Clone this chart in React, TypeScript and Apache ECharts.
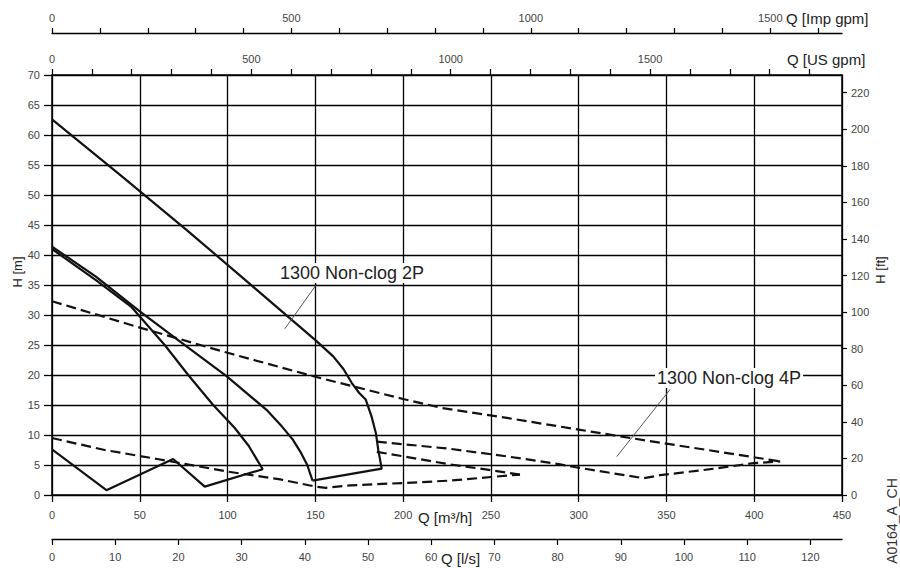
import React, { useEffect, useRef } from "react";
import * as echarts from "echarts";

// unit conversions (m3/h per unit, m per ft)
const M3H_PER_USGPM = 0.2271247;
const M3H_PER_IMPGPM = 0.2727654;
const M3H_PER_LS = 3.6;
const M_PER_FT = 0.3048;

const Q_MAX = 450; // m3/h
const H_MAX = 70; // m

// tick lists
const usGpmTicks = [0, 100, 200, 300, 400, 500, 600, 700, 800, 900, 1000, 1100, 1200, 1300, 1400, 1500, 1600, 1700, 1800, 1900];
const usGpmLabels = [0, 500, 1000, 1500];
const impGpmTicks = [0, 100, 200, 300, 400, 500, 600, 700, 800, 900, 1000, 1100, 1200, 1300, 1400, 1500, 1600];
const impGpmLabels = [0, 500, 1000, 1500];
const lsTicks = [0, 10, 20, 30, 40, 50, 60, 70, 80, 90, 100, 110, 120];
const ftTicks = [0, 20, 40, 60, 80, 100, 120, 140, 160, 180, 200, 220];

// curves [Q m3/h, H m]
const np2Max = [
  [0, 62.6], [38.6, 53.4], [76.6, 44.2], [113, 35.1], [149.7, 25.9], [160.2, 23.1],
  [166, 21.0], [170.7, 18.7], [175, 17.0], [178.7, 15.9], [182, 13.1], [184.5, 10.3],
  [185.8, 7.6], [187.8, 4.4], [148.4, 2.4],
];
const np2Mid = [
  [0, 41.4], [25, 36.4], [50, 30.6], [72.8, 25.6], [99.4, 19.8], [122.2, 14.2],
  [131, 11.4], [137, 9.3], [141.5, 7.2], [145.4, 5.0], [148.4, 2.4],
];
const np2Small = [
  [0, 41.0], [25, 35.8], [45, 31.4], [64.2, 25.0], [77.6, 20.0], [91.8, 15.0],
  [104, 11.2], [112, 8.2], [120, 4.3], [87, 1.4], [69, 6.0], [31, 0.8], [0, 7.6],
];
const np4Max = [
  [0, 32.3], [50, 27.9], [100, 23.7], [150, 19.7], [200, 16.0], [222, 14.5],
  [260, 12.8], [300, 10.9], [340, 9.0], [380, 7.2], [414.8, 5.6],
];
const np4Low = [
  [0, 9.5], [30, 7.5], [60, 6.0], [100, 3.9], [130, 2.6], [150, 1.4], [156, 1.2],
  [170, 1.6], [200, 2.0], [227, 2.4], [250, 3.0], [266.6, 3.4],
];
const np4Upper = [
  [185, 8.9], [226.7, 7.7], [260, 6.4], [289.4, 5.1], [300.8, 4.5], [336.9, 2.8],
  [346.4, 3.3], [374.9, 4.3], [399.6, 5.3], [414.8, 5.6],
];
const np4Inner = [[185, 7.2], [226.7, 5.1], [246, 4.3], [266.6, 3.4]];

// leader lines of the annotations
const leader2P = [[150.7, 35.1], [132.6, 27.7]];
const leader4P = [[352.1, 17.6], [321.7, 6.4]];

const FONT = '"Liberation Sans", Arial, Helvetica, sans-serif';
const LABEL_COLOR = "#444";
const NAME_COLOR = "#222";

export default function App() {
  const ref = useRef<HTMLDivElement>(null);

  useEffect(() => {
    if (!ref.current) return;
    const chart = echarts.init(ref.current, undefined, { renderer: "svg" });

    const solid = (data: number[][]) => ({
      type: "line",
      data,
      xAxisIndex: 0,
      yAxisIndex: 0,
      symbol: "none",
      silent: true,
      lineStyle: { color: "#111", width: 2.2 },
      z: 5,
    });
    const dashed = (data: number[][]) => ({
      type: "line",
      data,
      xAxisIndex: 0,
      yAxisIndex: 0,
      symbol: "none",
      silent: true,
      lineStyle: { color: "#111", width: 2.2, type: [10, 5] },
      z: 5,
    });
    const leader = (data: number[][]) => ({
      type: "line",
      data,
      xAxisIndex: 0,
      yAxisIndex: 0,
      symbol: "none",
      silent: true,
      lineStyle: { color: "#555", width: 1 },
      z: 6,
    });

    const plain = (v: number) => String(Math.round(v));
    const tickLabel = { color: LABEL_COLOR, fontSize: 11, fontFamily: FONT, formatter: plain };

    const option: any = {
      animation: false,
      backgroundColor: "#fff",
      grid: { left: 52, right: 58, top: 75, bottom: 73, containLabel: false },
      xAxis: [
        {
          type: "value",
          position: "bottom",
          min: 0,
          max: Q_MAX,
          interval: 50,
          axisLine: { onZero: false, lineStyle: { color: "#000", width: 1.5 } },
          axisTick: { length: 7, lineStyle: { color: "#000", width: 1.3 } },
          axisLabel: { ...tickLabel, margin: 14 },
          splitLine: { show: true, lineStyle: { color: "#000", width: 1.3 } },
        },
        {
          type: "value",
          position: "bottom",
          offset: 44,
          min: 0,
          max: Q_MAX / M3H_PER_LS,
          axisLine: { show: true, onZero: false, lineStyle: { color: "#000", width: 1.3 } },
          axisTick: { show: true, length: 6, customValues: lsTicks, lineStyle: { color: "#000", width: 1.2 } },
          axisLabel: { ...tickLabel, margin: 12, customValues: lsTicks },
          splitLine: { show: false },
        },
        {
          type: "value",
          position: "top",
          offset: 0,
          min: 0,
          max: Q_MAX / M3H_PER_USGPM,
          axisLine: { show: true, onZero: false, lineStyle: { color: "#000", width: 1.5 } },
          axisTick: { show: true, length: 6, customValues: usGpmTicks, lineStyle: { color: "#000", width: 1.2 } },
          axisLabel: { ...tickLabel, margin: 11, customValues: usGpmLabels },
          splitLine: { show: false },
        },
        {
          type: "value",
          position: "top",
          offset: 42,
          min: 0,
          max: Q_MAX / M3H_PER_IMPGPM,
          axisLine: { show: true, onZero: false, lineStyle: { color: "#000", width: 1.3 } },
          axisTick: { show: true, length: 5, customValues: impGpmTicks, lineStyle: { color: "#000", width: 1.2 } },
          axisLabel: { ...tickLabel, margin: 10, customValues: impGpmLabels },
          splitLine: { show: false },
        },
      ],
      yAxis: [
        {
          type: "value",
          position: "left",
          min: 0,
          max: H_MAX,
          interval: 5,
          axisLine: { show: true, onZero: false, lineStyle: { color: "#000", width: 1.5 } },
          axisTick: { show: true, length: 8, lineStyle: { color: "#000", width: 1.3 } },
          axisLabel: { ...tickLabel, margin: 12 },
          splitLine: { show: true, lineStyle: { color: "#000", width: 1.3 } },
        },
        {
          type: "value",
          position: "right",
          min: 0,
          max: H_MAX / M_PER_FT,
          axisLine: { show: true, onZero: false, lineStyle: { color: "#000", width: 1.5 } },
          axisTick: { show: true, length: 5, customValues: ftTicks, lineStyle: { color: "#000", width: 1.2 } },
          axisLabel: { ...tickLabel, margin: 9, customValues: ftTicks },
          splitLine: { show: false },
        },
      ],
      series: [
        solid(np2Max),
        solid(np2Mid),
        solid(np2Small),
        dashed(np4Max),
        dashed(np4Low),
        dashed(np4Upper),
        dashed(np4Inner),
        leader(leader2P),
        leader(leader4P),
      ],
      graphic: [
        {
          type: "text", x: 278, y: 273, z: 100,
          style: { text: "1300 Non-clog 2P", font: `18px ${FONT}`, fill: NAME_COLOR, backgroundColor: "#fff", padding: [1, 2], verticalAlign: "middle" },
        },
        {
          type: "text", x: 655, y: 378, z: 100,
          style: { text: "1300 Non-clog 4P", font: `18px ${FONT}`, fill: NAME_COLOR, backgroundColor: "#fff", padding: [1, 2], verticalAlign: "middle" },
        },
        {
          type: "text", x: 786, y: 18, z: 100,
          style: { text: "Q [Imp gpm]", font: `15px ${FONT}`, fill: NAME_COLOR, verticalAlign: "middle" },
        },
        {
          type: "text", x: 787, y: 59, z: 100,
          style: { text: "Q [US gpm]", font: `15px ${FONT}`, fill: NAME_COLOR, verticalAlign: "middle" },
        },
        {
          type: "text", x: 418, y: 517, z: 100,
          style: { text: "Q [m³/h]", font: `15px ${FONT}`, fill: NAME_COLOR, verticalAlign: "middle" },
        },
        {
          type: "text", x: 441, y: 558, z: 100,
          style: { text: "Q [l/s]", font: `15px ${FONT}`, fill: NAME_COLOR, verticalAlign: "middle" },
        },
        {
          type: "text", x: 17, y: 272, rotation: Math.PI / 2, z: 100,
          style: { text: "H [m]", font: `13px ${FONT}`, fill: NAME_COLOR, align: "center", verticalAlign: "middle" },
        },
        {
          type: "text", x: 880, y: 270, rotation: Math.PI / 2, z: 100,
          style: { text: "H [ft]", font: `13px ${FONT}`, fill: NAME_COLOR, align: "center", verticalAlign: "middle" },
        },
        {
          type: "text", x: 892, y: 521, rotation: Math.PI / 2, z: 100,
          style: { text: "A0164_A_CH", font: `14px ${FONT}`, fill: "#333", align: "center", verticalAlign: "middle" },
        },
      ],
    };

    chart.setOption(option);
    return () => chart.dispose();
  }, []);

  return (
    <div
      ref={ref}
      style={{ position: "fixed", left: 0, top: 0, width: 900, height: 568, background: "#fff" }}
    />
  );
}
